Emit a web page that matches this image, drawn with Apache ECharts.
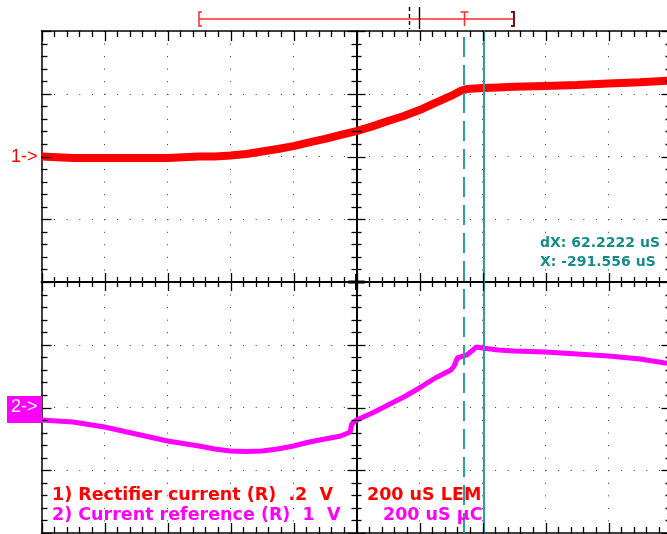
<!DOCTYPE html>
<html><head><meta charset="utf-8">
<script src="https://cdn.jsdelivr.net/npm/echarts/dist/echarts.min.js"></script>
<style>html,body{margin:0;padding:0;background:#fff}#c{width:667px;height:534px}</style>
</head><body><div id="c"></div>
<script>
// ---- data (time in microseconds, signals in volts) ----
const ch1Times = [-1000,-900,-800,-700,-600,-500,-450,-400,-350,-300,-250,-200,-150,-100,-50,0,50,100,150,200,250,300,330,350,400,450,500,600,700,800,900,1000];
const ch1Volts = [0.000,-0.005,-0.005,-0.005,-0.005,0.000,0.000,0.003,0.008,0.016,0.024,0.033,0.045,0.056,0.069,0.081,0.096,0.113,0.129,0.148,0.171,0.193,0.209,0.215,0.218,0.220,0.222,0.225,0.228,0.233,0.237,0.242];
const ch2Times = [-1000,-900,-800,-700,-600,-500,-450,-400,-350,-300,-250,-200,-150,-100,-50,-20,-15,0,50,100,150,200,250,300,310,320,350,370,380,400,450,500,600,700,800,900,1000];
const ch2Volts = [-0.199,-0.231,-0.311,-0.422,-0.534,-0.614,-0.661,-0.693,-0.701,-0.693,-0.661,-0.614,-0.550,-0.502,-0.454,-0.390,-0.263,-0.199,-0.088,0.040,0.167,0.311,0.470,0.598,0.661,0.789,0.837,0.916,0.964,0.948,0.916,0.900,0.884,0.853,0.821,0.773,0.693];
const ch1VoltsPerDiv = 0.2, ch1OffsetDiv = 2;
const ch2VoltsPerDiv = 1, ch2OffsetDiv = -2;
const cursorTimes = [341.3, 403.5];
const acqWindow = [-500, 500];
const triggerMarks = [166, 198];
const triggerPoint = [341];
const timeRange = [-1000, 1000], timePerDiv = 200;
const divRange = [-4, 4];
const minorPerDiv = 5;

const ch1Label = '1) Rectifier current (R)  .2  V';
const ch2Label = '2) Current reference (R)  1  V';
const ch1Time = '200 uS LEM';
const ch2Time = '200 uS \u00b5C';
const cursorText = ['dX: 62.2222 uS', 'X: -291.556 uS'];

// ---- layout ----
const G = {left: 41.5, top: 31, width: 630, height: 502};
const RED = '#ff0000', MAG = '#ff00ff', TEAL = '#2f9e9e', TEALTXT = '#178b8b';

function mkX(pos, offset, w, split) {
  return {type: 'value', min: timeRange[0], max: timeRange[1], interval: timePerDiv, position: pos, offset: offset,
    axisLine: {show: true, onZero: false, lineStyle: {color: '#000', width: w}},
    axisTick: {show: false}, minorTick: {show: false}, axisLabel: {show: false},
    splitLine: {show: split, lineStyle: {color: '#333', width: 1, type: [1, 11.55]}},
    minorSplitLine: {show: false}};
}
function mkY(pos, offset, w, split) {
  return {type: 'value', min: divRange[0], max: divRange[1], interval: 1, position: pos, offset: offset,
    axisLine: {show: true, onZero: false, lineStyle: {color: '#000', width: w}},
    axisTick: {show: false}, minorTick: {show: false}, axisLabel: {show: false},
    splitLine: {show: split, lineStyle: {color: '#333', width: 1, type: [1, 11.6]}},
    minorSplitLine: {show: false}};
}

const ch1Data = ch1Times.map((t, i) => [t, ch1Volts[i] / ch1VoltsPerDiv + ch1OffsetDiv]);
const ch2Data = ch2Times.map((t, i) => [t, ch2Volts[i] / ch2VoltsPerDiv + ch2OffsetDiv]);

const texts = [
  {type: 'text', z: 100, style: {text: '1->', x: 11, y: 157, verticalAlign: 'middle', fill: RED, font: '18px "Liberation Sans"'}},
  {type: 'rect', z: 99, shape: {x: 7, y: 396, width: 35, height: 27}, style: {fill: MAG}},
  {type: 'text', z: 100, style: {text: '2->', x: 11, y: 407, verticalAlign: 'middle', fill: '#fff', font: '18px "Liberation Sans"'}},
  {type: 'text', z: 100, style: {text: ch1Label, x: 52, y: 495, verticalAlign: 'middle', fill: RED, font: 'bold 17.5px "DejaVu Sans"'}},
  {type: 'text', z: 100, style: {text: ch2Label, x: 52, y: 515, verticalAlign: 'middle', fill: MAG, font: 'bold 17.5px "DejaVu Sans"'}},
  {type: 'text', z: 100, style: {text: ch1Time, x: 367, y: 495, verticalAlign: 'middle', fill: RED, font: 'bold 17.5px "DejaVu Sans"'}},
  {type: 'text', z: 100, style: {text: ch2Time, x: 383, y: 515, verticalAlign: 'middle', fill: MAG, font: 'bold 17.5px "DejaVu Sans"'}},
  {type: 'text', z: 100, style: {text: cursorText[0], x: 540, y: 243, verticalAlign: 'middle', fill: TEALTXT, font: 'bold 14px "DejaVu Sans"'}},
  {type: 'text', z: 100, style: {text: cursorText[1], x: 540, y: 262, verticalAlign: 'middle', fill: TEALTXT, font: 'bold 14px "DejaVu Sans"'}}
];

const chart = echarts.init(document.getElementById('c'), null, {renderer: 'canvas'});
chart.setOption({
  animation: false,
  backgroundColor: '#fff',
  grid: {left: G.left, top: G.top, width: G.width, height: G.height, containLabel: false, outerBoundsMode: 'none'},
  xAxis: [
    mkX('bottom', 0, 1.5, true),
    mkX('top', 0, 1.5, false),
    mkX('bottom', -G.height / 2, 2, false)
  ],
  yAxis: [
    mkY('left', 0, 1.5, true),
    mkY('right', 0, 1.5, false),
    mkY('left', -G.width / 2, 2, false)
  ],
  series: [
    {type: 'line', name: 'ch2', data: ch2Data, showSymbol: false, xAxisIndex: 0, yAxisIndex: 0,
      lineStyle: {color: MAG, width: 5}, z: 3},
    {type: 'line', name: 'ch1', data: ch1Data, showSymbol: false, xAxisIndex: 0, yAxisIndex: 0,
      lineStyle: {color: RED, width: 8}, z: 4,
      markLine: {symbol: 'none', silent: true, label: {show: false}, z: 10,
        lineStyle: {color: TEAL, width: 2, type: 'solid'},
        data: [
          {xAxis: cursorTimes[0], lineStyle: {type: [20, 8], color: TEAL, width: 2}},
          {xAxis: cursorTimes[1], lineStyle: {type: 'solid', color: TEAL, width: 2}}
        ]}},
    {type: 'custom', name: 'acq', coordinateSystem: 'cartesian2d', clip: false, silent: true, z: 6,
      data: [[acqWindow[0], acqWindow[1]]],
      renderItem: function (params, api) {
        const x0 = api.coord([api.value(0), 0])[0];
        const x1 = api.coord([api.value(1), 0])[0];
        const y = params.coordSys.y - 12;
        return {type: 'group', children: [
          {type: 'line', shape: {x1: x0, y1: y, x2: x1, y2: y}, style: {stroke: '#ff2a2a', lineWidth: 1.6}},
          {type: 'polyline', shape: {points: [[x0 + 3, y - 7], [x0, y - 7], [x0, y + 7], [x0 + 3, y + 7]]}, style: {stroke: '#ff2a2a', lineWidth: 1.5, fill: null}},
          {type: 'polyline', shape: {points: [[x1 - 3, y - 7], [x1, y - 7], [x1, y + 7], [x1 - 3, y + 7]]}, style: {stroke: '#7a1010', lineWidth: 2, fill: null}}
        ]};
      }},
    {type: 'custom', name: 'trigMarks', coordinateSystem: 'cartesian2d', clip: false, silent: true, z: 7,
      data: triggerMarks.map((t, i) => [t, i]),
      renderItem: function (params, api) {
        const x = Math.round(api.coord([api.value(0), 0])[0]) + 0.5;
        const y = params.coordSys.y;
        const dashed = api.value(1) === 0;
        return {type: 'line', shape: {x1: x, y1: y - 24, x2: x, y2: y - 2},
          style: {stroke: '#000', lineWidth: 1.4, lineDash: dashed ? [4, 3] : null}};
      }},
    {type: 'custom', name: 'trigPoint', coordinateSystem: 'cartesian2d', clip: false, silent: true, z: 7,
      data: triggerPoint.map(t => [t]),
      renderItem: function (params, api) {
        const x = Math.round(api.coord([api.value(0), 0])[0]) + 0.5;
        const y = params.coordSys.y;
        return {type: 'group', children: [
          {type: 'line', shape: {x1: x - 4, y1: y - 19, x2: x + 4, y2: y - 19}, style: {stroke: '#ff2a2a', lineWidth: 1.5}},
          {type: 'line', shape: {x1: x, y1: y - 19, x2: x, y2: y - 5}, style: {stroke: '#ff2a2a', lineWidth: 1.5}}
        ]};
      }}
  ],
  graphic: texts
});

// graticule ticks, positioned through the chart's own axis scales
(function addTicks() {
  const px = (t, v) => chart.convertToPixel({xAxisIndex: 0, yAxisIndex: 0}, [t, v]);
  const tl = px(timeRange[0], divRange[1]), br = px(timeRange[1], divRange[0]), c = px(0, 0);
  const xl = tl[0], yt = tl[1], xr = br[0], yb = br[1], xc = c[0], yc = c[1];
  const els = [];
  const seg = (a, b, e, f, w) => els.push({type: 'line', z: 50, silent: true,
    shape: {x1: a, y1: b, x2: e, y2: f}, style: {stroke: '#000', lineWidth: w || 1.3}});
  const nx = (timeRange[1] - timeRange[0]) / timePerDiv * minorPerDiv;
  for (let k = 0; k <= nx; k++) {
    const x = Math.round(px(timeRange[0] + k * timePerDiv / minorPerDiv, 0)[0]) + 0.5;
    const major = k % minorPerDiv === 0;
    const L = major ? 10 : 6, Lc = major ? 9 : 5;
    seg(x, yt, x, yt + L); seg(x, yb, x, yb - L); seg(x, yc - Lc, x, yc + Lc);
  }
  const ny = (divRange[1] - divRange[0]) * minorPerDiv;
  for (let k = 0; k <= ny; k++) {
    const y = Math.round(px(0, divRange[0] + k / minorPerDiv)[1]) + 0.5;
    const major = k % minorPerDiv === 0;
    const L = major ? 10 : 6, Lc = major ? 9 : 5;
    seg(xl, y, xl + L, y); seg(xr, y, xr - L, y); seg(xc - Lc, y, xc + Lc, y);
  }
  seg(xc - 8, yc, xc + 8, yc, 3); seg(xc, yc - 8, xc, yc + 8, 3);
  chart.setOption({graphic: texts.concat(els)}, {replaceMerge: ['graphic']});
})();
</script></body></html>
